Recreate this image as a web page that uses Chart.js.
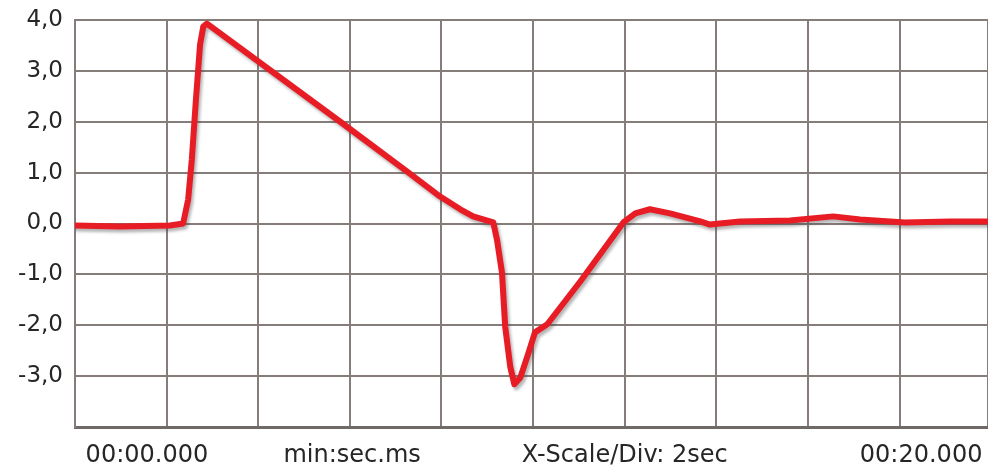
<!DOCTYPE html>
<html>
<head>
<meta charset="utf-8">
<script src="https://cdn.jsdelivr.net/npm/chart.js@4.4.1/dist/chart.umd.min.js"></script>
<style>
  html, body { margin: 0; padding: 0; background: #fff; }
  .chart-box { width: 988px; height: 472px; position: relative; }
</style>
</head>
<body>
<div class="chart-box"><canvas id="myChart"></canvas></div>
<script>
// signal trace, time in seconds
const timeSec = [
  0, 0.98, 2.07, 2.36, 2.47, 2.55, 2.64, 2.73, 2.80, 2.88,
  5.79, 7.31, 7.97, 8.41, 8.69, 9.13,
  9.21, 9.32, 9.39, 9.50, 9.59, 9.72, 9.89, 10.04, 10.31, 11.03,
  11.97, 12.23, 12.55, 12.99, 13.65, 13.86, 14.52, 15.61, 16.55, 17.14,
  18.12, 19.10, 19.93,
];
const voltage = [
  -0.04, -0.06, -0.04, 0, 0.47, 1.26, 2.44, 3.52, 3.87, 3.93,
  2.00, 0.98, 0.53, 0.28, 0.14, 0.02,
  -0.31, -0.96, -2.02, -2.81, -3.16, -3.03, -2.57, -2.14, -1.98, -1.14,
  0.02, 0.20, 0.28, 0.20, 0.04, -0.02, 0.04, 0.06, 0.14, 0.08,
  0.02, 0.04, 0.04,
];

// bottom labels and where they sit on the time axis
const xTickLabels = ['00:00.000', 'min:sec.ms', 'X-Scale/Div: 2sec', '00:20.000'];
const xTickAt = [1.57, 6.05, 12.0, 18.47];

const gridColor = '#857d7a';
const textColor = '#262626';

const shadowPlugin = {
  id: 'lineShadow',
  beforeDatasetsDraw(chart) {
    const ctx = chart.ctx;
    ctx.save();
    ctx.shadowColor = 'rgba(70, 70, 70, 0.4)';
    ctx.shadowBlur = 3;
    ctx.shadowOffsetX = 2;
    ctx.shadowOffsetY = 3;
  },
  afterDatasetsDraw(chart) {
    chart.ctx.restore();
  },
};

const ctx = document.getElementById('myChart').getContext('2d');
const chart = new Chart(ctx, {
  type: 'line',
  data: {
    datasets: [{
      data: timeSec.map((t, i) => ({ x: t, y: voltage[i] })),
      borderColor: 'rgb(232, 28, 36)',
      borderWidth: 6,
      pointRadius: 0,
      tension: 0,
      borderJoinStyle: 'round',
      borderCapStyle: 'round',
    }],
  },
  options: {
    animation: false,
    responsive: true,
    maintainAspectRatio: false,
    layout: { padding: { top: 20, right: 0, left: 0, bottom: 0 } },
    plugins: {
      legend: { display: false },
      tooltip: { enabled: false },
    },
    scales: {
      x: {
        type: 'linear',
        min: 0,
        max: 19.93,
        ticks: { display: false, stepSize: 2 },
        grid: { color: gridColor, lineWidth: 2, drawTicks: false },
        border: { color: '#6f6a68', width: 3 },
        afterFit(scale) {
          scale.height = 0;
          scale.paddingLeft = 0;
          scale.paddingRight = 0;
        },
      },
      x2: {
        type: 'linear',
        position: 'bottom',
        min: 0,
        max: 19.93,
        grid: { display: false, drawTicks: false },
        border: { display: false },
        afterBuildTicks(scale) {
          scale.ticks = xTickAt.map((v) => ({ value: v }));
        },
        ticks: {
          autoSkip: false,
          maxRotation: 0,
          padding: 14,
          color: textColor,
          font: { family: 'DejaVu Sans', size: 24 },
          callback: (value, index) => xTickLabels[index],
        },
        afterFit(scale) {
          scale.height = 45;
          scale.paddingLeft = 0;
          scale.paddingRight = 0;
        },
      },
      y: {
        min: -4,
        max: 4,
        ticks: {
          stepSize: 1,
          padding: 12,
          color: textColor,
          font: { family: 'DejaVu Sans', size: 23 },
          callback: (value) => (value === -4 ? '' : value.toFixed(1).replace('.', ',')),
        },
        grid: { color: gridColor, lineWidth: 2, drawTicks: false },
        border: { color: gridColor, width: 2 },
        afterFit(scale) {
          scale.width = 75;
          scale.paddingTop = 0;
          scale.paddingBottom = 0;
        },
      },
    },
  },
  plugins: [shadowPlugin],
});
</script>
</body>
</html>
